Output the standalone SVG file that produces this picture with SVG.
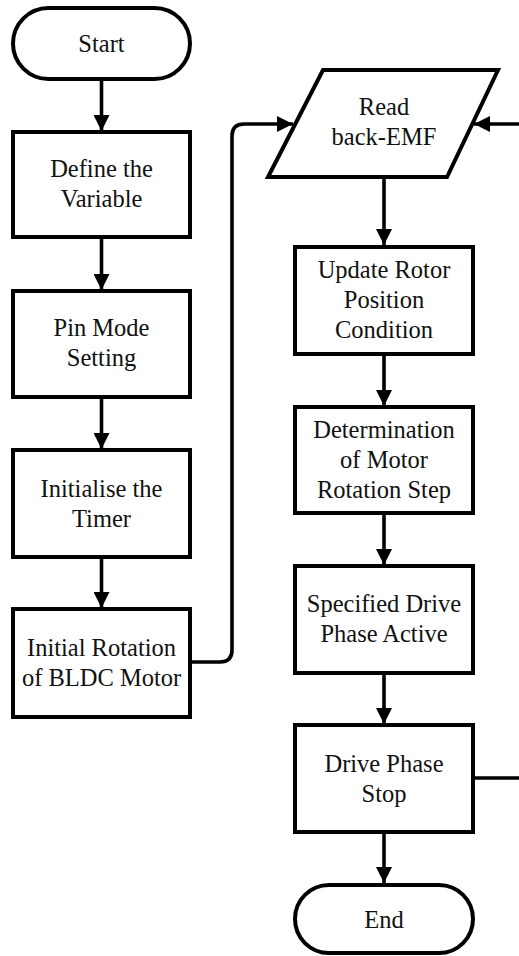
<svg xmlns="http://www.w3.org/2000/svg" width="519" height="956" viewBox="0 0 519 956">
  <style>
    .shape { fill: #ffffff; stroke: #000000; stroke-width: 4; }
    .flow { fill: none; stroke: #000000; stroke-width: 3.6; stroke-linejoin: round; }
    text { font-family: Tinos, 'Liberation Serif', 'Times New Roman', serif; font-size: 24.5px; fill: #111111; text-anchor: middle; }
  </style>
  <defs>
    <marker id="arrow" markerUnits="userSpaceOnUse" markerWidth="16" markerHeight="16" refX="16" refY="8" orient="auto">
      <path d="M0,0 L16,8 L0,16 z" fill="#000000"/>
    </marker>
  </defs>

  <rect width="519" height="956" fill="#ffffff"/>

  <!-- connectors -->
  <g id="connectors">
    <path class="flow" d="M101.5,79 V131" marker-end="url(#arrow)"/>
    <path class="flow" d="M101.5,237 V290" marker-end="url(#arrow)"/>
    <path class="flow" d="M101.5,397 V449" marker-end="url(#arrow)"/>
    <path class="flow" d="M101.5,557 V608" marker-end="url(#arrow)"/>
    <path class="flow" d="M190,662 H220 Q232,662 232,650 V136 Q232,124 244,124 H293" marker-end="url(#arrow)"/>
    <path class="flow" d="M384,177 V245" marker-end="url(#arrow)"/>
    <path class="flow" d="M384,354 V406" marker-end="url(#arrow)"/>
    <path class="flow" d="M384,513 V565" marker-end="url(#arrow)"/>
    <path class="flow" d="M384,673 V724" marker-end="url(#arrow)"/>
    <path class="flow" d="M384,832 V883" marker-end="url(#arrow)"/>
    <path class="flow" d="M473,778 H530 V124 H474" marker-end="url(#arrow)"/>
  </g>

  <g id="start">
    <rect class="shape" x="13" y="8" width="177" height="71" rx="35.5" ry="35.5"/>
    <text x="101.5" y="52" style="font-family: Tinos, 'Liberation Serif', serif">Start</text>
  </g>

  <g id="define-variable">
    <rect class="shape" x="13" y="132" width="177" height="105"/>
    <text x="101.5" y="177">Define the</text>
    <text x="101.5" y="207">Variable</text>
  </g>

  <g id="pin-mode">
    <rect class="shape" x="13" y="291" width="177" height="106"/>
    <text x="101.5" y="336">Pin Mode</text>
    <text x="101.5" y="366">Setting</text>
  </g>

  <g id="init-timer">
    <rect class="shape" x="13" y="450" width="177" height="107"/>
    <text x="101.5" y="497">Initialise the</text>
    <text x="101.5" y="527">Timer</text>
  </g>

  <g id="initial-rotation">
    <rect class="shape" x="13" y="609" width="177" height="108"/>
    <text x="101.5" y="656">Initial Rotation</text>
    <text x="101.5" y="686">of BLDC Motor</text>
  </g>

  <g id="read-bemf">
    <polygon class="shape" points="323,70 498,70 447,177 268,177"/>
    <text x="384" y="115">Read</text>
    <text x="384" y="145">back-EMF</text>
  </g>

  <g id="update-rotor">
    <rect class="shape" x="295" y="247" width="178" height="107"/>
    <text x="384" y="278">Update Rotor</text>
    <text x="384" y="308">Position</text>
    <text x="384" y="338">Condition</text>
  </g>

  <g id="rotation-step">
    <rect class="shape" x="295" y="407" width="178" height="106"/>
    <text x="384" y="438">Determination</text>
    <text x="384" y="468">of Motor</text>
    <text x="384" y="498">Rotation Step</text>
  </g>

  <g id="phase-active">
    <rect class="shape" x="295" y="566" width="178" height="107"/>
    <text x="384" y="612">Specified Drive</text>
    <text x="384" y="642">Phase Active</text>
  </g>

  <g id="phase-stop">
    <rect class="shape" x="295" y="725" width="178" height="107"/>
    <text x="384" y="772">Drive Phase</text>
    <text x="384" y="802">Stop</text>
  </g>

  <g id="end">
    <rect class="shape" x="295" y="885" width="178" height="68" rx="34" ry="34"/>
    <text x="384" y="928">End</text>
  </g>
</svg>
